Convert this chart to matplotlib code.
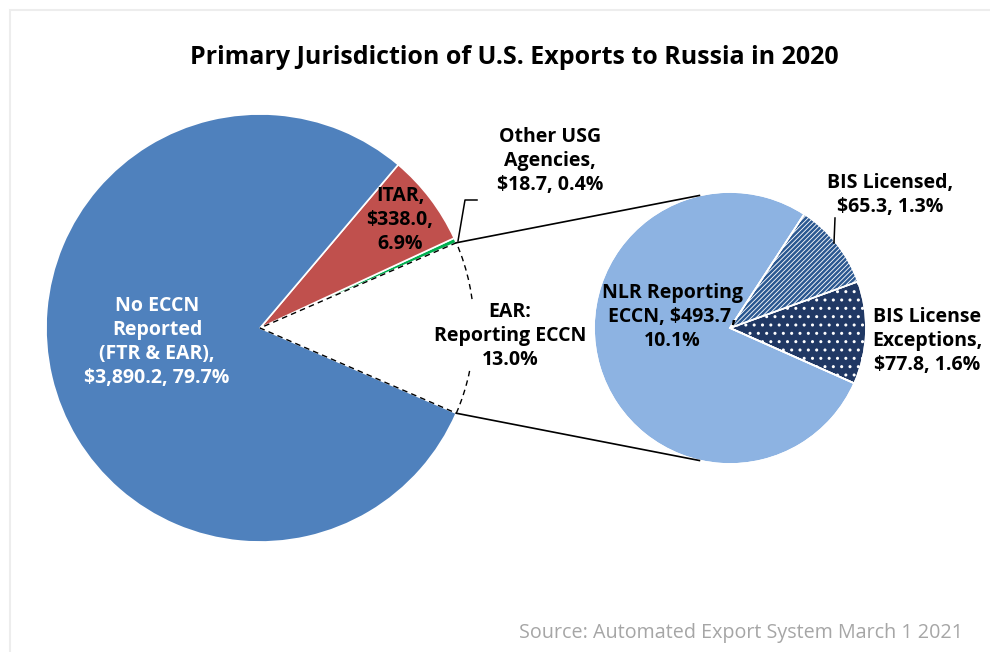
import numpy as np
import matplotlib
matplotlib.use("Agg")
import matplotlib.pyplot as plt
from matplotlib.patches import Rectangle

# data ($ millions)
main_labels = ["EAR: Reporting ECCN", "Other USG Agencies", "ITAR", "No ECCN Reported (FTR & EAR)"]
other_usg = 18.7
itar = 338.0
no_eccn = 3890.2

sub_labels = ["BIS License Exceptions", "BIS Licensed", "NLR Reporting ECCN"]
sub_values = [77.8, 65.3, 493.7]

ear_total = sum(sub_values)
main_values = [ear_total, other_usg, itar, no_eccn]

W, H = 990, 652
plt.rcParams['font.family'] = ['Open Sans', 'DejaVu Sans']
plt.rcParams['hatch.linewidth'] = 1.8

fig = plt.figure(figsize=(W / 100, H / 100), dpi=100)
ax = fig.add_axes([0, 0, 1, 1])

# pixel-like coordinates, y measured from bottom
c1, r1 = (260, H - 328), 214
c2, r2 = (730, H - 328), 136

ear_frac = ear_total / sum(main_values)
w1, _ = ax.pie(main_values, center=c1, radius=r1, startangle=-ear_frac * 180,
               counterclock=True, colors=["white", "#00B050", "#C0504D", "#4F81BD"],
               wedgeprops=dict(edgecolor="white", linewidth=1.2))
# the pulled-out EAR slice is only an outline
w1[0].set_edgecolor("black")
w1[0].set_linestyle((0, (4, 3)))
w1[0].set_linewidth(1.0)
w1[0].set_zorder(3)

w2, _ = ax.pie(sub_values, center=c2, radius=r2, startangle=-24,
               counterclock=True, colors=["#203864", "white", "#8DB3E2"],
               wedgeprops=dict(edgecolor="white", linewidth=1.2))
# striped slice
w2[1].set_hatch("///////")
w2[1].set_edgecolor("#2B5891")
w2[1].set_linewidth(0)
# white outlines drawn again on top of the hatch
ax.pie(sub_values, center=c2, radius=r2, startangle=-24, counterclock=True,
       colors=["none", "none", "none"],
       wedgeprops=dict(edgecolor="white", linewidth=1.2))

plt.rcParams['hatch.linewidth'] = 1.0
# dotted slice
dots, _ = ax.pie(sub_values, center=c2, radius=r2, startangle=-24, counterclock=True,
                 colors=["none", "none", "none"], wedgeprops=dict(linewidth=0))
dots[0].set_hatch("..")
dots[0].set_edgecolor("white")
for d in dots[1:]:
    d.set_visible(False)

# connector lines between the two pies
a = np.deg2rad(ear_frac * 180)
b = np.deg2rad(103)
for s in (1, -1):
    x0 = c1[0] + r1 * np.cos(a)
    y0 = c1[1] + s * r1 * np.sin(a)
    x1 = c2[0] + r2 * np.cos(b)
    y1 = c2[1] + s * r2 * np.sin(b)
    ax.plot([x0, x1], [y0, y1], color="black", lw=1.2, zorder=4)

# leader lines
ax.plot([477, 465, 458], [H - 200, H - 200, H - 241], color="black", lw=1.1, zorder=4)
ax.plot([835, 834], [H - 218, H - 243], color="black", lw=1.1, zorder=4)

fs = 14
lab = dict(ha="center", va="center", fontsize=fs, fontweight="bold", linespacing=1.28, zorder=5)
ax.text(157, H - 342, "No ECCN\nReported\n(FTR & EAR),\n$3,890.2, 79.7%", color="white", **lab)
ax.text(400, H - 220, "ITAR,\n$338.0,\n6.9%", color="black", **lab)
ax.text(550, H - 161, "Other USG\nAgencies,\n$18.7, 0.4%", color="black", **lab)
ax.text(510, H - 336, "EAR:\nReporting ECCN\n13.0%", color="black",
        bbox=dict(facecolor="white", edgecolor="none", pad=0), **lab)
ax.text(672, H - 317, "NLR Reporting\nECCN, $493.7,\n10.1%", color="black", **lab)
ax.text(890, H - 195, "BIS Licensed,\n$65.3, 1.3%", color="black", **lab)
ax.text(927, H - 341, "BIS License\nExceptions,\n$77.8, 1.6%", color="black", **lab)

ax.text(514, H - 58, "Primary Jurisdiction of U.S. Exports to Russia in 2020",
        ha="center", va="center", fontsize=18, fontweight="bold")
ax.text(963, H - 633, "Source: Automated Export System March 1 2021",
        ha="right", va="center", fontsize=14.2, color="#A6A6A6")

# chart frame
ax.add_patch(Rectangle((9.5, -5), W + 10, H - 9.5 + 5, facecolor="none",
                       edgecolor="#EDEDED", lw=1.5, zorder=0))

ax.set_xlim(0, W)
ax.set_ylim(0, H)
ax.set_aspect("equal")
ax.axis("off")

fig.savefig("out.png", dpi=100)
